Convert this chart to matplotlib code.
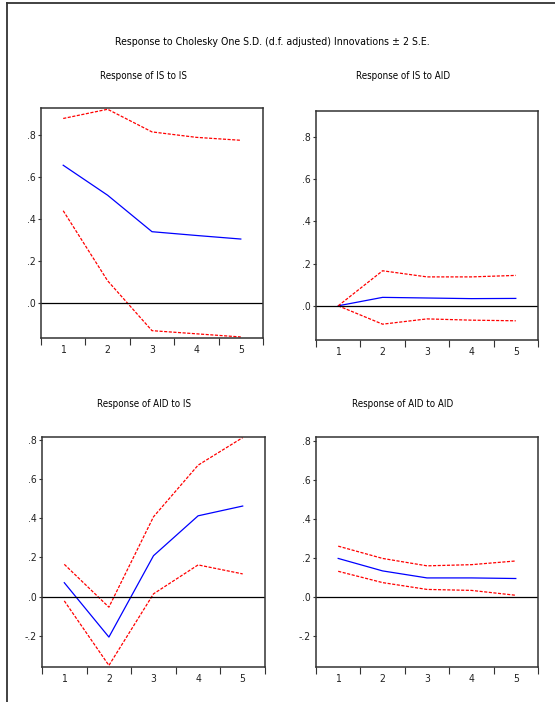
import matplotlib
matplotlib.use('Agg')
import matplotlib.pyplot as plt
from matplotlib.lines import Line2D
from matplotlib import font_manager

# narrow font if one is around, otherwise condensed DejaVu
_fonts = font_manager.fontManager.ttflist
if any(f.name == 'Liberation Sans Narrow' for f in _fonts):
    FONT = dict(family=['Liberation Sans Narrow', 'DejaVu Sans'])
else:
    FONT = dict(family=['DejaVu Sans'], stretch='condensed')

# impulse response periods
periods = [1, 2, 3, 4, 5]

# Response of IS to IS
is_is = [0.657, 0.514, 0.340, 0.322, 0.305]
is_is_hi = [0.880, 0.924, 0.816, 0.790, 0.776]
is_is_lo = [0.440, 0.106, -0.132, -0.147, -0.162]

# Response of IS to AID
is_aid = [0.0, 0.040, 0.037, 0.034, 0.035]
is_aid_hi = [0.0, 0.166, 0.137, 0.137, 0.144]
is_aid_lo = [0.0, -0.087, -0.062, -0.068, -0.071]

# Response of AID to IS
aid_is = [0.071, -0.207, 0.209, 0.413, 0.463]
aid_is_hi = [0.165, -0.054, 0.408, 0.672, 0.813]
aid_is_lo = [-0.022, -0.352, 0.014, 0.162, 0.116]

# Response of AID to AID
aid_aid = [0.197, 0.133, 0.097, 0.097, 0.094]
aid_aid_hi = [0.260, 0.197, 0.159, 0.165, 0.184]
aid_aid_lo = [0.131, 0.073, 0.038, 0.033, 0.008]

y_ticks = [-0.2, 0.0, 0.2, 0.4, 0.6, 0.8]
y_labels = ['-.2', '.0', '.2', '.4', '.6', '.8']

W, H = 555, 702
fig = plt.figure(figsize=(W / 100, H / 100), dpi=100)

def px_axes(left, top, right, bottom):
    return fig.add_axes([left / W, 1 - bottom / H, (right - left) / W, (bottom - top) / H])

# outer frame (top and left edges visible)
fig.add_artist(Line2D([7 / W, 7 / W], [0, 1 - 3 / H], transform=fig.transFigure, color='#333333', lw=1.3))
fig.add_artist(Line2D([7 / W, 1], [1 - 3 / H, 1 - 3 / H], transform=fig.transFigure, color='#333333', lw=1.3))

fig.text(272 / W, 1 - 42 / H, 'Response to Cholesky One S.D. (d.f. adjusted) Innovations \u00b1 2 S.E.',
         ha='center', va='center', fontsize=7.6, **FONT)

panels = [
    ('Response of IS to IS', (41, 108, 263, 338), (-0.167, 0.93), is_is, is_is_hi, is_is_lo, 144, 76),
    ('Response of IS to AID', (316, 111, 538, 340), (-0.162, 0.923), is_aid, is_aid_hi, is_aid_lo, 403, 76),
    ('Response of AID to IS', (42, 437, 265, 667), (-0.36, 0.816), aid_is, aid_is_hi, aid_is_lo, 144, 404),
    ('Response of AID to AID', (316, 437, 538, 667), (-0.36, 0.82), aid_aid, aid_aid_hi, aid_aid_lo, 403, 404),
]

for title, box, ylim, mid, hi, lo, tx, ty in panels:
    ax = px_axes(*box)
    ax.plot(periods, mid, color='#0000ff', lw=0.9)
    ax.plot(periods, hi, color='#ff0000', lw=0.9, ls=(0, (2.5, 1.2)))
    ax.plot(periods, lo, color='#ff0000', lw=0.9, ls=(0, (2.5, 1.2)))
    ax.axhline(0, color='black', lw=0.9)
    ax.set_xlim(0.5, 5.5)
    ax.set_ylim(*ylim)
    ax.set_xticks([0.5, 1.5, 2.5, 3.5, 4.5, 5.5])
    ax.set_xticklabels([])
    ax.set_xticks(periods, minor=True)
    ax.set_xticklabels([str(p) for p in periods], minor=True, fontsize=7.5, color='#222222', **FONT)
    ax.tick_params(axis='x', which='major', direction='out', length=5, width=0.8, color='#333333')
    ax.tick_params(axis='x', which='minor', length=0, pad=5)
    ticks = [t for t in y_ticks if ylim[0] <= t <= ylim[1]]
    ax.set_yticks(ticks)
    ax.set_yticklabels([y_labels[y_ticks.index(t)] for t in ticks], fontsize=7.5, color='#222222', **FONT)
    ax.tick_params(axis='y', direction='out', length=2.5, width=0.8, pad=1, color='#333333')
    for sp in ax.spines.values():
        sp.set_color('#333333')
        sp.set_linewidth(1.1)
    fig.text(tx / W, 1 - ty / H, title, ha='center', va='center', fontsize=7.0, **FONT)

fig.savefig('out.png', dpi=100)
